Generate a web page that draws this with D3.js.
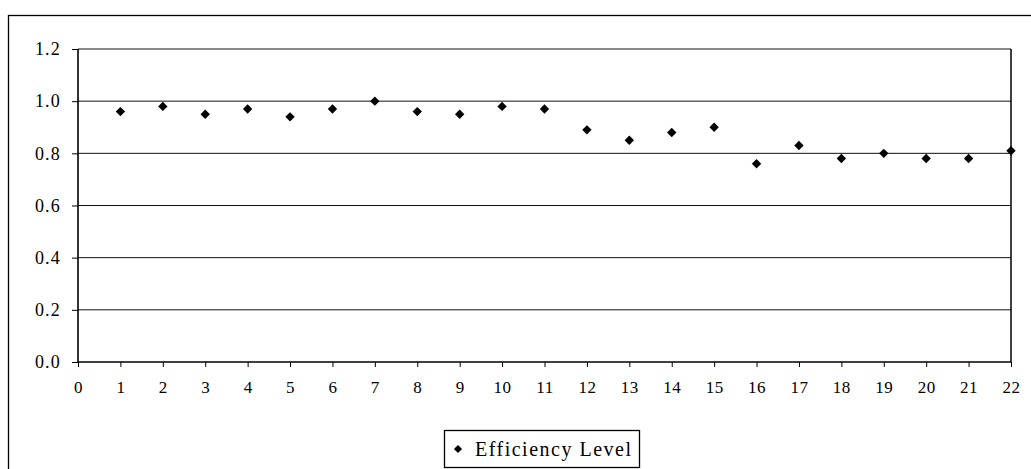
<!DOCTYPE html>
<html>
<head>
<meta charset="utf-8">
<script src="https://cdn.jsdelivr.net/npm/d3@7"></script>
<style>
  html, body { margin: 0; padding: 0; background: #fff; }
  svg { display: block; font-family: "Liberation Serif", "Times New Roman", serif; }
</style>
</head>
<body>
<div id="chart"></div>
<script>
const units = [1, 2, 3, 4, 5, 6, 7, 8, 9, 10, 11, 12, 13, 14, 15, 16, 17, 18, 19, 20, 21, 22];
const efficiency = [0.96, 0.98, 0.95, 0.97, 0.94, 0.97, 1.00, 0.96, 0.95, 0.98, 0.97,
  0.89, 0.85, 0.88, 0.90, 0.76, 0.83, 0.78, 0.80, 0.78, 0.78, 0.81];
const yTicks = [0, 0.2, 0.4, 0.6, 0.8, 1.0, 1.2];
const xTicks = d3.range(0, 23);
const seriesName = "Efficiency Level";

const width = 1031, height = 469;
const plot = {left: 78, right: 1011, top: 49, bottom: 362};

const svg = d3.select("#chart").append("svg")
  .attr("width", width)
  .attr("height", height);

// outer frame (runs past the bottom / right edge like the scan)
svg.append("rect")
  .attr("x", 8.5).attr("y", 15.5)
  .attr("width", 1040).attr("height", 480)
  .attr("fill", "none").attr("stroke", "#000").attr("stroke-width", 1.3);

const x = d3.scaleLinear().domain([0, 22]).range([plot.left, plot.right]);
const y = d3.scaleLinear().domain([0, 1.2]).range([plot.bottom, plot.top]);

// gridlines
svg.append("g")
  .selectAll("line")
  .data(yTicks.filter(d => d > 0))
  .enter()
  .append("line")
    .attr("x1", plot.left).attr("x2", plot.right)
    .attr("y1", d => y(d)).attr("y2", d => y(d))
    .attr("stroke", "#111").attr("stroke-width", 1);

// right border of plot area
svg.append("line")
  .attr("x1", plot.right).attr("x2", plot.right)
  .attr("y1", plot.top).attr("y2", plot.bottom)
  .attr("stroke", "#000").attr("stroke-width", 1.5);

const yAxis = d3.axisLeft(y)
  .tickValues(yTicks)
  .tickSize(6)
  .tickPadding(11)
  .tickFormat(d3.format(".1f"));

const xAxis = d3.axisBottom(x)
  .tickValues(xTicks)
  .tickSize(5)
  .tickPadding(14)
  .tickFormat(d => d);

const gy = svg.append("g")
  .attr("transform", `translate(${plot.left},0)`)
  .call(yAxis);

const gx = svg.append("g")
  .attr("transform", `translate(0,${plot.bottom})`)
  .call(xAxis);

[gx, gy].forEach(g => {
  g.select(".domain").attr("stroke", "#000").attr("stroke-width", 1.6);
  g.selectAll(".tick line").attr("stroke", "#000");
  g.selectAll("text")
    .attr("fill", "#000")
    .attr("font-family", "Liberation Serif, serif");
});
gx.selectAll("text").attr("font-size", 17).attr("letter-spacing", 0.5);
gy.selectAll("text").attr("font-size", 18).attr("letter-spacing", 1.2);
gx.select(".domain").attr("d", `M${plot.left},0H${plot.right}`);
gy.select(".domain").attr("d", `M0,${plot.bottom}V${plot.top}`);

const diamond = d3.symbol().type(d3.symbolSquare).size(44);

svg.append("g")
  .selectAll("path")
  .data(units.map((u, i) => ({u, v: efficiency[i]})))
  .enter()
  .append("path")
    .attr("d", diamond)
    .attr("transform", d => `translate(${x(d.u)},${y(d.v)}) rotate(45)`)
    .attr("fill", "#000");

// legend
const legend = svg.append("g").attr("transform", "translate(444,430)");
legend.append("rect")
  .attr("x", 0.5).attr("y", 0.5)
  .attr("width", 195).attr("height", 37)
  .attr("fill", "#fff").attr("stroke", "#000").attr("stroke-width", 1.3);
legend.append("path")
  .attr("d", d3.symbol().type(d3.symbolSquare).size(34))
  .attr("transform", "translate(14,19) rotate(45)")
  .attr("fill", "#000");
legend.append("text")
  .attr("x", 31).attr("y", 25.5)
  .attr("font-size", 20)
  .attr("letter-spacing", 1.5)
  .attr("fill", "#000")
  .text(seriesName);
</script>
</body>
</html>
